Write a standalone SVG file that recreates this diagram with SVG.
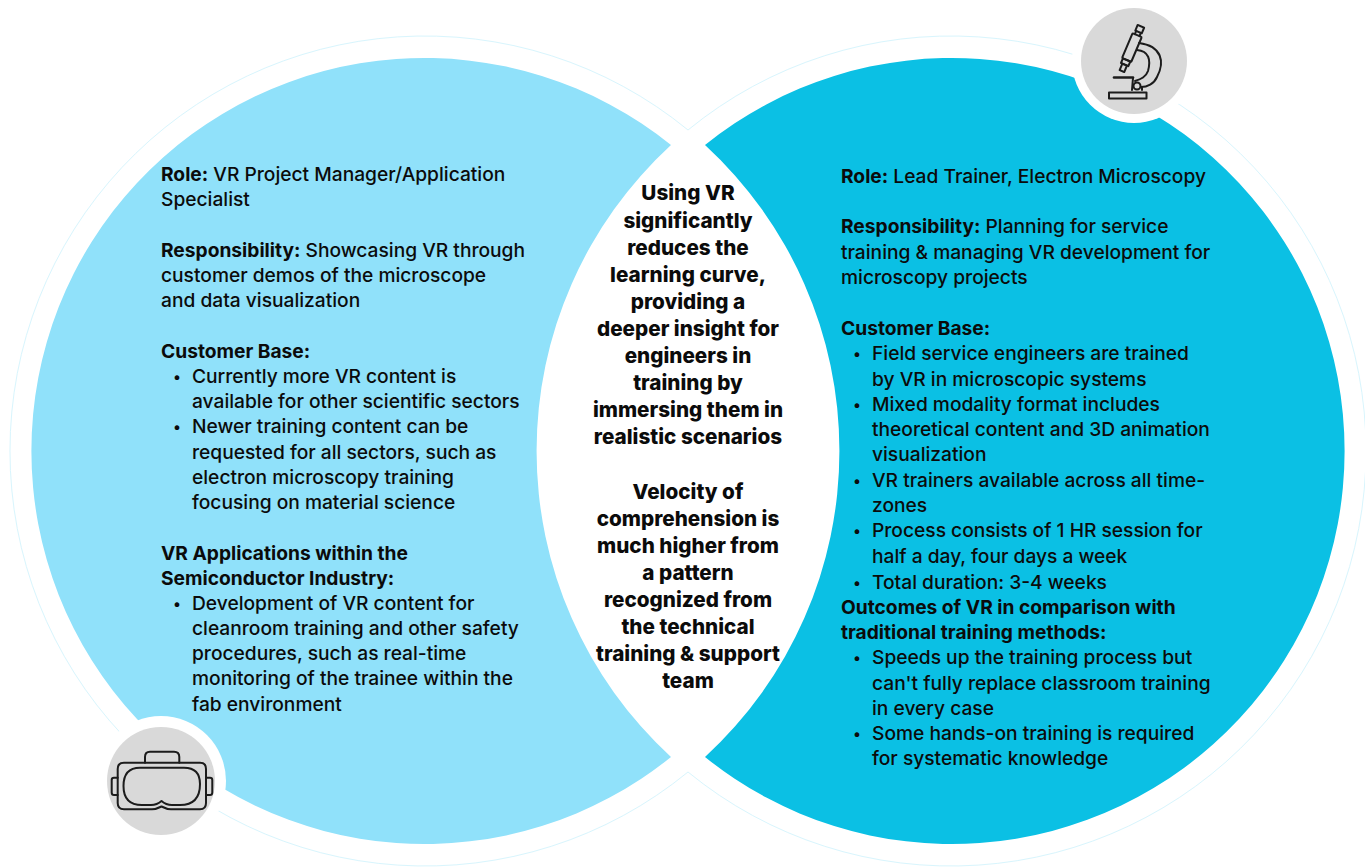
<svg xmlns="http://www.w3.org/2000/svg" width="1365" height="867" viewBox="0 0 1365 867">
<style>
text{font-family:"Inter","Liberation Sans",sans-serif;font-size:19.2px;fill:#0b0b0b;font-weight:500}
.b{font-weight:700}
.u{font-size:15px}
.c text{text-anchor:middle;font-weight:800;font-size:20.7px}
.ic{fill:none;stroke:#1c1c1c;stroke-width:2;stroke-linejoin:round;stroke-linecap:round}
.ring{fill:none;stroke-width:1;stroke:#d8f5fd}
.g{fill:#d9d9d9}
</style>
<rect width="1365" height="867" fill="#fff"/>
<g id="connectors"></g>
<g id="left-circle">
<path class="ring" d="M688,130A415,415 0 1 0 688,772"/>
<path fill="#90e1fa" d="M671,145A393,393 0 1 0 671,757A415.5,415.5 0 0 1 671,145Z"/>
<text x="161" y="181"><tspan class="b">Role:</tspan> VR Project Manager/Application</text>
<text x="161" y="206">Specialist</text>
<text x="161" y="257"><tspan class="b">Responsibility:</tspan> Showcasing VR through</text>
<text x="161" y="282">customer demos of the microscope</text>
<text x="161" y="307">and data visualization</text>
<text x="161" y="358" class="b">Customer Base:</text>
<text x="173" y="382" class="u">•</text><text x="192" y="383">Currently more VR content is</text>
<text x="192" y="408">available for other scientific sectors</text>
<text x="173" y="432" class="u">•</text><text x="192" y="433">Newer training content can be</text>
<text x="192" y="459">requested for all sectors, such as</text>
<text x="192" y="484">electron microscopy training</text>
<text x="192" y="509">focusing on material science</text>
<text x="161" y="560" class="b">VR Applications within the</text>
<text x="161" y="585" class="b">Semiconductor Industry:</text>
<text x="173" y="609" class="u">•</text><text x="192" y="610">Development of VR content for</text>
<text x="192" y="635">cleanroom training and other safety</text>
<text x="192" y="660">procedures, such as real-time</text>
<text x="192" y="685">monitoring of the trainee within the</text>
<text x="192" y="711">fab environment</text>
</g>
<g id="right-circle">
<path class="ring" d="M688,130A415,415 0 1 1 688,772"/>
<path fill="#0bc0e4" d="M705,145A393,393 0 1 1 705,757A415.5,415.5 0 0 0 705,145Z"/>
<text x="841" y="183"><tspan class="b">Role:</tspan> Lead Trainer, Electron Microscopy</text>
<text x="841" y="233"><tspan class="b">Responsibility:</tspan> Planning for service</text>
<text x="841" y="259">training &amp; managing VR development for</text>
<text x="841" y="284">microscopy projects</text>
<text x="841" y="335" class="b">Customer Base:</text>
<text x="853" y="359" class="u">•</text><text x="872" y="360">Field service engineers are trained</text>
<text x="872" y="386">by VR in microscopic systems</text>
<text x="853" y="410" class="u">•</text><text x="872" y="411">Mixed modality format includes</text>
<text x="872" y="436">theoretical content and 3D animation</text>
<text x="872" y="461">visualization</text>
<text x="853" y="486" class="u">•</text><text x="872" y="487">VR trainers available across all time-</text>
<text x="872" y="512">zones</text>
<text x="853" y="536" class="u">•</text><text x="872" y="537">Process consists of 1 HR session for</text>
<text x="872" y="563">half a day, four days a week</text>
<text x="853" y="588" class="u">•</text><text x="872" y="589">Total duration: 3-4 weeks</text>
<text x="841" y="614" class="b">Outcomes of VR in comparison with</text>
<text x="841" y="639" class="b">traditional training methods:</text>
<text x="853" y="663" class="u">•</text><text x="872" y="664">Speeds up the training process but</text>
<text x="872" y="690">can't fully replace classroom training</text>
<text x="872" y="715">in every case</text>
<text x="853" y="739" class="u">•</text><text x="872" y="740">Some hands-on training is required</text>
<text x="872" y="765">for systematic knowledge</text>
</g>
<g id="center" class="c">
<text x="688" y="200">Using VR</text>
<text x="688" y="228">significantly</text>
<text x="688" y="255">reduces the</text>
<text x="688" y="282">learning curve,</text>
<text x="688" y="309">providing a</text>
<text x="688" y="336">deeper insight for</text>
<text x="688" y="363">engineers in</text>
<text x="688" y="390">training by</text>
<text x="688" y="417">immersing them in</text>
<text x="688" y="444">realistic scenarios</text>
<text x="688" y="499">Velocity of</text>
<text x="688" y="526">comprehension is</text>
<text x="688" y="553">much higher from</text>
<text x="688" y="580">a pattern</text>
<text x="688" y="607">recognized from</text>
<text x="688" y="634">the technical</text>
<text x="688" y="661">training &amp; support</text>
<text x="688" y="688">team</text>
</g>
<g id="microscope-icon">
<circle cx="1134" cy="61" r="62" fill="#fff"/>
<circle class="g" cx="1134" cy="61" r="53"/>
<g class="ic">
<g transform="translate(1131.700,48) rotate(23)">
<rect x="-3.500" y="-23.500" width="7" height="6"/>
<path d="M-2.500,-17.500V-14M2.500,-17.500V-14"/>
<rect x="-5" y="-14" width="10" height="27" rx="1"/>
<rect x="-4" y="13" width="8" height="5"/>
<rect x="-2.500" y="18" width="5" height="7"/>
</g>
<path d="M1139,43C1162,46 1165,62 1157,77C1154,84 1147,87 1141,87"/>
<path d="M1137,50C1149,51 1151,60 1148,71C1146,77 1141,79 1135,81"/>
<path d="M1114,77.500H1133" stroke-width="2.600"/>
<path d="M1133,78L1132,90M1142,87V90"/>
<circle cx="1137" cy="86" r="3.500"/>
<rect x="1109" y="92.500" width="37.500" height="6"/>
</g>
</g>
<g id="vr-icon">
<circle cx="161" cy="781" r="65" fill="#fff"/>
<circle class="g" cx="161" cy="781" r="54"/>
<g class="ic">
<path d="M145,762.700V757Q145,751.700 150,751.700H174Q179.300,751.700 179.300,757V762.700"/>
<path d="M124,762.700H200Q206,762.700 206,769V803Q206,809.300 200,809.300H171Q167,809.300 161.500,806.500Q156,809.300 152,809.300H124Q117.700,809.300 117.700,803V769Q117.700,762.700 124,762.700Z"/>
<path d="M140,767.700H184Q200,767.700 200,784Q200,805 180,805H172Q166,805 161.500,801Q157,805 151,805H142Q123.500,805 123.500,786Q123.500,767.700 140,767.700Z"/>
<path d="M117.700,777.700H114Q111.700,777.700 111.700,780V792.500Q111.700,795 114,795H117.700"/>
<path d="M206,777.700H210Q212.300,777.700 212.300,780V792.500Q212.300,795 210,795H206"/>
</g>
</g>
</svg>
